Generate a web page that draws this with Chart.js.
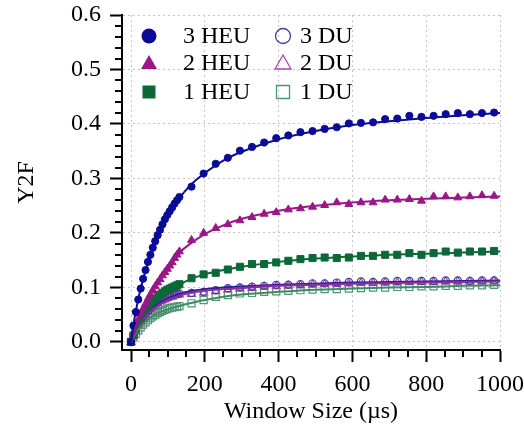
<!DOCTYPE html>
<html>
<head>
<meta charset="utf-8">
<script src="https://cdn.jsdelivr.net/npm/chart.js@4.4.1/dist/chart.umd.min.js"></script>
<style>
  html, body { margin: 0; padding: 0; background: #fff; }
</style>
</head>
<body>
<canvas id="chart" width="524" height="429"></canvas>
<script>
// Window sizes (us) of the measured points: dense at the start, then every ~33 us
const windowUs = [0, 6.6, 13.1, 19.7, 26.2, 32.8, 39.4, 45.9, 52.5, 59, 65.6, 72.2, 78.7, 85.3, 91.8, 98.4, 105, 111.5, 118.1, 124.6, 131.2,
  164, 196.8, 229.6, 262.4, 295.2, 328, 360.8, 393.6, 426.4, 459.2, 492, 524.8, 557.6, 590.4, 623.2, 656, 688.8, 721.6, 754.4, 787.2, 820, 852.8, 885.6, 918.4, 951.2, 984]

const heu3 = [0, 0.030, 0.055, 0.078, 0.098, 0.116, 0.132, 0.147, 0.160, 0.173, 0.185, 0.196, 0.206, 0.216, 0.225, 0.233, 0.240, 0.247, 0.254, 0.260, 0.266,
  0.285, 0.309, 0.327, 0.338, 0.351, 0.358, 0.366, 0.374, 0.379, 0.385, 0.387, 0.391, 0.394, 0.401, 0.402, 0.403, 0.409, 0.410, 0.415, 0.413, 0.415, 0.418, 0.420, 0.418, 0.420, 0.421]
const heu2 = [0, 0.015, 0.028, 0.040, 0.051, 0.061, 0.070, 0.079, 0.087, 0.095, 0.102, 0.109, 0.115, 0.122, 0.128, 0.134, 0.140, 0.146, 0.154, 0.160, 0.166,
  0.187, 0.200, 0.209, 0.216, 0.223, 0.229, 0.235, 0.238, 0.243, 0.245, 0.248, 0.251, 0.256, 0.253, 0.256, 0.256, 0.261, 0.261, 0.262, 0.259, 0.267, 0.267, 0.265, 0.267, 0.269, 0.268]
const heu1 = [0, 0.012, 0.024, 0.034, 0.043, 0.051, 0.058, 0.064, 0.070, 0.075, 0.079, 0.083, 0.087, 0.090, 0.093, 0.096, 0.098, 0.100, 0.102, 0.104, 0.106,
  0.117, 0.124, 0.127, 0.133, 0.138, 0.143, 0.143, 0.146, 0.149, 0.152, 0.154, 0.155, 0.154, 0.155, 0.158, 0.158, 0.160, 0.160, 0.163, 0.160, 0.163, 0.166, 0.164, 0.166, 0.166, 0.167]
const du3 = [0, 0.012, 0.022, 0.031, 0.039, 0.046, 0.052, 0.057, 0.062, 0.066, 0.070, 0.073, 0.076, 0.078, 0.080, 0.082, 0.084, 0.086, 0.087, 0.088, 0.089,
  0.090, 0.092, 0.095, 0.0985, 0.100, 0.1015, 0.103, 0.1046, 0.105, 0.106, 0.1076, 0.1076, 0.109, 0.110, 0.111, 0.110, 0.111, 0.112, 0.112, 0.112, 0.112, 0.113, 0.113, 0.112, 0.113, 0.113]
const du2 = [0, 0.011, 0.021, 0.030, 0.037, 0.044, 0.050, 0.055, 0.060, 0.064, 0.068, 0.071, 0.074, 0.076, 0.078, 0.080, 0.082, 0.083, 0.085, 0.086, 0.087,
  0.088, 0.090, 0.093, 0.096, 0.098, 0.099, 0.101, 0.102, 0.103, 0.104, 0.105, 0.106, 0.106, 0.107, 0.108, 0.108, 0.109, 0.109, 0.110, 0.110, 0.110, 0.111, 0.111, 0.111, 0.111, 0.112]
const du1 = [0, 0.008, 0.015, 0.021, 0.027, 0.032, 0.036, 0.040, 0.044, 0.047, 0.050, 0.053, 0.055, 0.057, 0.059, 0.061, 0.062, 0.063, 0.064, 0.065, 0.066,
  0.071, 0.077, 0.083, 0.086, 0.089, 0.090, 0.092, 0.093, 0.094, 0.095, 0.096, 0.097, 0.097, 0.098, 0.099, 0.100, 0.100, 0.101, 0.101, 0.102, 0.102, 0.103, 0.103, 0.104, 0.104, 0.105]

// Fitted curves
const fitUs = [0, 5, 10, 20, 30, 45, 60, 80, 100, 130, 160, 200, 250, 300, 400, 500, 600, 700, 800, 900, 1000]
const fitHeu3 = [0, 0.024, 0.045, 0.080, 0.108, 0.143, 0.172, 0.205, 0.232, 0.263, 0.287, 0.310, 0.333, 0.349, 0.372, 0.387, 0.398, 0.405, 0.411, 0.416, 0.420]
const fitHeu2 = [0, 0.011, 0.022, 0.041, 0.057, 0.078, 0.096, 0.117, 0.135, 0.163, 0.180, 0.198, 0.214, 0.226, 0.241, 0.250, 0.256, 0.260, 0.263, 0.265, 0.267]
const fitHeu1 = [0, 0.009, 0.017, 0.031, 0.043, 0.058, 0.070, 0.083, 0.093, 0.105, 0.115, 0.124, 0.132, 0.138, 0.147, 0.153, 0.157, 0.160, 0.162, 0.164, 0.166]
const fitDu3 = [0, 0.009, 0.017, 0.030, 0.041, 0.053, 0.063, 0.073, 0.080, 0.088, 0.093, 0.097, 0.100, 0.102, 0.105, 0.107, 0.109, 0.110, 0.111, 0.112, 0.113]
const fitDu2 = [0, 0.0085, 0.016, 0.029, 0.039, 0.051, 0.061, 0.070, 0.077, 0.085, 0.090, 0.094, 0.097, 0.099, 0.103, 0.105, 0.107, 0.108, 0.109, 0.110, 0.111]
const fitDu1 = [0, 0.007, 0.013, 0.023, 0.031, 0.041, 0.048, 0.055, 0.060, 0.066, 0.071, 0.077, 0.083, 0.087, 0.092, 0.096, 0.098, 0.100, 0.101, 0.103, 0.104]

const xTicks = [0, 200, 400, 600, 800, 1000]
const yTicks = [0, 0.1, 0.2, 0.3, 0.4, 0.5, 0.6]

const FONT = 'Liberation Serif'
const toPts = (xs, ys) => xs.map((x, i) => ({ x: x, y: ys[i] }))

function markers(label, ys, style, color, filled, radius) {
  return {
    label: label,
    data: toPts(windowUs, ys),
    showLine: false,
    pointStyle: style,
    pointRadius: radius,
    pointBorderWidth: filled ? 1 : 1.2,
    borderColor: color,
    backgroundColor: filled ? color : 'rgba(0,0,0,0)',
    order: 2
  }
}
function fit(ys, color) {
  return {
    label: '',
    data: toPts(fitUs, ys),
    showLine: true,
    pointRadius: 0,
    borderColor: color,
    borderWidth: 2,
    cubicInterpolationMode: 'monotone',
    order: 1
  }
}

const datasets = [
  markers('3 HEU', heu3, 'circle', '#0b0b98', true, 3.6),
  markers('2 HEU', heu2, 'triangle', '#9a1787', true, 4.6),
  markers('1 HEU', heu1, 'rect', '#0d6838', true, 5),
  markers('3 DU', du3, 'circle', '#4b3ca0', false, 3.6),
  markers('2 DU', du2, 'triangle', '#a64aa8', false, 4.6),
  markers('1 DU', du1, 'rect', '#4f9574', false, 5),
  fit(fitHeu3, '#0b0b98'),
  fit(fitHeu2, '#9a1787'),
  fit(fitHeu1, '#0d6838'),
  fit(fitDu1, '#3f8a5f'),
  fit(fitDu2, '#8a2f98'),
  fit(fitDu3, '#2a1fa0')
]

// minor tick marks on both axes
const minorTicks = {
  id: 'minorTicks',
  afterDraw(chart) {
    const { ctx, scales: { x, y } } = chart
    ctx.save()
    ctx.strokeStyle = '#000'
    ctx.lineWidth = 2
    ctx.beginPath()
    for (let v = 50; v < 1000; v += 50) {
      if (v % 200 === 0) continue
      const px = Math.round(x.getPixelForValue(v))
      ctx.moveTo(px, x.top)
      ctx.lineTo(px, x.top + 7)
    }
    for (let k = 1; k < 30; k++) {
      if (k % 5 === 0) continue
      const py = Math.round(y.getPixelForValue(k * 0.02))
      ctx.moveTo(y.right, py)
      ctx.lineTo(y.right - 7, py)
    }
    ctx.stroke()
    ctx.restore()
  }
}

// two-column legend inside the plot
const insideLegend = {
  id: 'insideLegend',
  afterDraw(chart) {
    const ctx = chart.ctx
    const cols = [{ mx: 149, tx: 183 }, { mx: 283, tx: 300 }]
    const rows = [36, 63, 92]
    ctx.save()
    ctx.font = '24px "' + FONT + '"'
    ctx.textBaseline = 'middle'
    ctx.fillStyle = '#000'
    for (let i = 0; i < 6; i++) {
      const ds = chart.data.datasets[i]
      const c = cols[i < 3 ? 0 : 1]
      const cy = rows[i % 3]
      const filled = ds.backgroundColor !== 'rgba(0,0,0,0)'
      ctx.beginPath()
      if (ds.pointStyle === 'circle') {
        ctx.arc(c.mx, cy, 7.5, 0, Math.PI * 2)
      } else if (ds.pointStyle === 'triangle') {
        ctx.moveTo(c.mx, cy - 8)
        ctx.lineTo(c.mx + 8, cy + 6)
        ctx.lineTo(c.mx - 8, cy + 6)
        ctx.closePath()
      } else {
        ctx.rect(c.mx - 6.5, cy - 6.5, 13, 13)
      }
      if (filled) {
        ctx.fillStyle = ds.backgroundColor
        ctx.fill()
      } else {
        ctx.strokeStyle = ds.borderColor
        ctx.lineWidth = 1.3
        ctx.stroke()
      }
      ctx.fillStyle = '#000'
      ctx.fillText(ds.label, c.tx, cy + 1)
    }
    ctx.restore()
  }
}

const gridStyle = {
  color: '#c3c3d6',
  lineWidth: 1,
  tickColor: '#000',
  tickWidth: 2,
  tickLength: 12
}

new Chart(document.getElementById('chart'), {
  type: 'scatter',
  data: { datasets: datasets },
  options: {
    responsive: false,
    animation: false,
    layout: { padding: { top: 15, right: 24, left: 0, bottom: 0 } },
    plugins: { legend: { display: false }, tooltip: { enabled: false } },
    scales: {
      x: {
        type: 'linear',
        min: -24.4,
        max: 1000,
        afterBuildTicks: axis => { axis.ticks = xTicks.map(v => ({ value: v })) },
        afterFit: scale => {
          scale.height = 79
          scale.paddingLeft = 0
          scale.paddingRight = 0
        },
        grid: gridStyle,
        border: { display: true, color: '#000', width: 2, dash: [2, 3] },
        ticks: {
          color: '#000',
          padding: 8,
          maxRotation: 0,
          font: { family: FONT, size: 24 },
          callback: v => String(v)
        },
        title: {
          display: true,
          text: 'Window Size (\u00b5s)',
          color: '#000',
          font: { family: FONT, size: 24 },
          padding: { top: 0, bottom: 3 }
        }
      },
      y: {
        type: 'linear',
        min: -0.0147,
        max: 0.6,
        afterBuildTicks: axis => { axis.ticks = yTicks.map(v => ({ value: v })) },
        afterFit: scale => {
          scale.width = 122
          scale.paddingTop = 0
          scale.paddingBottom = 0
        },
        grid: gridStyle,
        border: { display: true, color: '#000', width: 2, dash: [2, 3] },
        ticks: {
          color: '#000',
          padding: 9,
          font: { family: FONT, size: 24 },
          callback: v => v.toFixed(1)
        },
        title: {
          display: true,
          text: 'Y2F',
          color: '#000',
          font: { family: FONT, size: 24 },
          padding: { top: 12, bottom: 0 }
        }
      }
    }
  },
  plugins: [minorTicks, insideLegend]
})
</script>
</body>
</html>
